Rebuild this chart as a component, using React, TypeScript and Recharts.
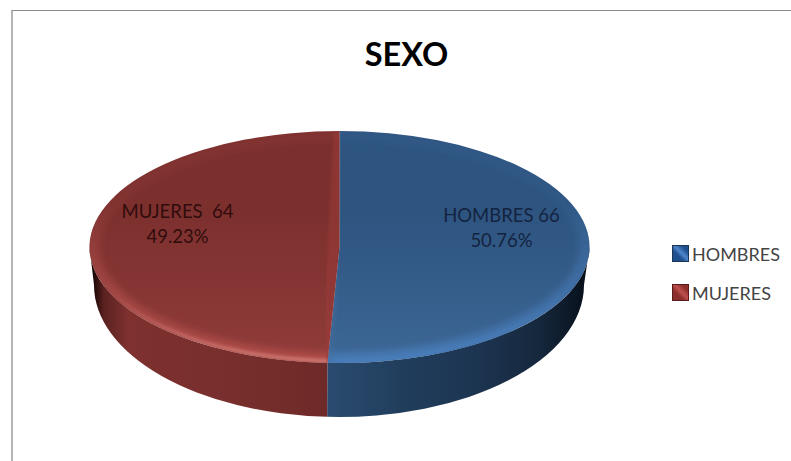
import React from 'react'
import { PieChart, Pie, Legend } from 'recharts'

const categories = ['HOMBRES', 'MUJERES']
const counts = [66, 64]
const percentLabels = ['50.76%', '49.23%']
const sliceLabels = ['HOMBRES 66', 'MUJERES \u00a064']

const chartData = categories.map((name, i) => ({
  name,
  value: counts[i],
  sliceLabel: sliceLabels[i],
  percentLabel: percentLabels[i],
  tone: i,
}))

const FONT = 'Lato, "Open Sans", sans-serif'

// the pie is laid on its side: top face squashed, thick wall under it
const CX = 339.5
const CY = 247
const RADIUS = 250
const SQUASH = 0.464
const WALL_CX = 339
const WALL_CY = 285
const WALL_RX = 245
const WALL_RY = 132

const tones = [
  {
    faceTop: '#2e5480',
    faceBottom: '#3d6796',
    rim: '#4a80bf',
    bevel: '#4a80bf',
    edge: '#44719f',
    edgeOpacity: 0.35,
    rimMid: 0.2,
    label: '#14233f',
    wall: [[325, '#2b4c70'], [400, '#213e5d'], [480, '#1c3450'], [540, '#15273c'], [585, '#08111c']],
    swatch: ['#4f86cc', '#1f4f8c', '#1c3558'],
  },
  {
    faceTop: '#7c302e',
    faceBottom: '#903c3a',
    rim: '#d8807a',
    bevel: '#b9514e',
    edge: '#a03e3a',
    edgeOpacity: 0.45,
    rimMid: 0.12,
    label: '#300c0c',
    wall: [[92, '#120404'], [104, '#5a2220'], [128, '#7e312f'], [250, '#762e2c'], [326, '#6e2a28']],
    swatch: ['#c0504d', '#8c2f2c', '#5a1c1a'],
  },
]

const facePoint = (deg: number, r = RADIUS) => {
  const a = (deg * Math.PI) / 180
  return [CX + r * Math.cos(a), CY - r * SQUASH * Math.sin(a)]
}

const wallPoint = (deg: number) => {
  const a = (deg * Math.PI) / 180
  return [WALL_CX + WALL_RX * Math.cos(a), WALL_CY - WALL_RY * Math.sin(a)]
}

function PieSlab(props: any) {
  const { startAngle, endAngle, outerRadius, payload, index } = props
  const tone = tones[payload?.tone ?? index ?? 0]
  const id = `slab-${payload?.tone ?? index ?? 0}`
  const ry = outerRadius * SQUASH
  const [sx, sy] = facePoint(startAngle, outerRadius)
  const [ex, ey] = facePoint(endAngle, outerRadius)
  const large = Math.abs(startAngle - endAngle) > 180 ? 1 : 0
  const face = `M${CX},${CY} L${sx},${sy} A${outerRadius},${ry} 0 ${large} 1 ${ex},${ey} Z`

  // only the part of the wall that faces the viewer, -180..0 degrees
  const wallFrom = Math.min(startAngle, 0)
  const wallTo = Math.max(endAngle, -180)
  const [t0x, t0y] = facePoint(wallFrom, outerRadius)
  const [t1x, t1y] = facePoint(wallTo, outerRadius)
  const [b0x, b0y] = wallPoint(wallFrom)
  const [b1x, b1y] = wallPoint(wallTo)
  const wall =
    `M${t0x},${t0y} A${outerRadius},${ry} 0 0 1 ${t1x},${t1y} ` +
    `L${b1x},${b1y} A${WALL_RX},${WALL_RY} 0 0 0 ${b0x},${b0y} Z`

  const [bx, by] = facePoint(-92.7, outerRadius)

  return (
    <g>
      <defs>
        <linearGradient id={`${id}-wall`} gradientUnits="userSpaceOnUse" x1={0} x2={791} y1={0} y2={0}>
          {tone.wall.map(([x, c]) => (
            <stop key={x as number} offset={(x as number) / 791} stopColor={c as string} />
          ))}
        </linearGradient>
        <linearGradient id={`${id}-face`} gradientUnits="userSpaceOnUse" x1={0} x2={0} y1={CY - ry} y2={CY + ry}>
          <stop offset={0} stopColor={tone.faceTop} />
          <stop offset={0.35} stopColor={tone.faceTop} />
          <stop offset={1} stopColor={tone.faceBottom} />
        </linearGradient>
        <linearGradient id={`${id}-rim`} gradientUnits="userSpaceOnUse" x1={0} x2={0} y1={CY - ry} y2={CY + ry}>
          <stop offset={0.3} stopColor={tone.rim} stopOpacity={0} />
          <stop offset={0.7} stopColor={tone.rim} stopOpacity={tone.rimMid} />
          <stop offset={1} stopColor={tone.rim} stopOpacity={0.9} />
        </linearGradient>
        <linearGradient id={`${id}-bevel`} gradientUnits="userSpaceOnUse" x1={0} x2={0} y1={CY - ry} y2={CY + ry}>
          <stop offset={0.3} stopColor={tone.bevel} stopOpacity={0.1} />
          <stop offset={0.6} stopColor={tone.bevel} stopOpacity={0.45} />
          <stop offset={1} stopColor={tone.bevel} stopOpacity={0.8} />
        </linearGradient>
        <clipPath id={`${id}-clip`}>
          <path d={face} />
        </clipPath>
        <filter id={`${id}-soft`} x="-10%" y="-10%" width="120%" height="120%">
          <feGaussianBlur stdDeviation={1.5} />
        </filter>
        <filter id={`${id}-softer`} x="-10%" y="-10%" width="120%" height="120%">
          <feGaussianBlur stdDeviation={3.5} />
        </filter>
      </defs>
      <path d={wall} fill={`url(#${id}-wall)`} />
      <path d={face} fill={`url(#${id}-face)`} />
      <g clipPath={`url(#${id}-clip)`}>
        {/* wide soft bevel, then the thin highlight on the front edge */}
        <ellipse
          cx={CX}
          cy={CY}
          rx={outerRadius - 5}
          ry={ry - 5}
          fill="none"
          stroke={`url(#${id}-bevel)`}
          strokeWidth={10}
          filter={`url(#${id}-softer)`}
        />
        <ellipse
          cx={CX}
          cy={CY}
          rx={outerRadius - 2}
          ry={ry - 2}
          fill="none"
          stroke={`url(#${id}-rim)`}
          strokeWidth={3.5}
          filter={`url(#${id}-soft)`}
        />
        {/* lit edge along the cut between the two slices */}
        <path
          d={`M${CX},${CY - ry} L${bx},${by}`}
          fill="none"
          stroke={tone.edge}
          strokeWidth={12}
          opacity={tone.edgeOpacity}
          filter={`url(#${id}-soft)`}
        />
      </g>
    </g>
  )
}

function SliceLabel(props: any) {
  const { cx, midAngle, payload, index } = props
  const tone = tones[payload?.tone ?? index ?? 0]
  const [x, y] = [
    cx + 162 * Math.cos((midAngle * Math.PI) / 180),
    247 - 162 * SQUASH * Math.sin((midAngle * Math.PI) / 180) - 33,
  ]
  return (
    <text x={x} textAnchor="middle" fontFamily={FONT} fontSize={18.5} fill={tone.label}>
      <tspan x={x} y={y + 6}>{payload.sliceLabel}</tspan>
      <tspan x={x} y={y + 31}>{payload.percentLabel}</tspan>
    </text>
  )
}

function SwatchLegend({ payload }: any) {
  return (
    <div>
      {(payload ?? []).map((entry: any, i: number) => {
        const s = tones[i].swatch
        return (
          <div key={entry.value} style={{ display: 'flex', alignItems: 'center', height: 39, fontFamily: FONT, fontSize: 18, color: '#444' }}>
            <span
              style={{
                width: 15,
                height: 15,
                marginRight: 3,
                border: `1px solid ${s[2]}`,
                background: `linear-gradient(45deg, ${s[1]} 35%, ${s[0]} 55%, ${s[1]} 80%)`,
                boxSizing: 'content-box',
              }}
            />
            {entry.value}
          </div>
        )
      })}
    </div>
  )
}

export default function App() {
  return (
    <div style={{ position: 'absolute', left: 0, top: 0, width: 791, height: 461, background: '#fff', overflow: 'hidden' }}>
      <div style={{ position: 'absolute', left: 11, top: 10, width: 800, height: 480, borderTop: '1px solid #8a8a8a', borderLeft: '2px solid #b4b4b4' }} />
      <PieChart width={791} height={461} margin={{ top: 0, right: 0, bottom: 0, left: 0 }} style={{ position: 'absolute', left: 0, top: 0 }}>
        <text x={406.5} y={66} textAnchor="middle" fontFamily={FONT} fontWeight={700} fontSize={32.5} fill="#000">
          SEXO
        </text>
        <Pie
          data={chartData}
          dataKey="value"
          nameKey="name"
          cx={CX}
          cy={CY}
          outerRadius={RADIUS}
          startAngle={90}
          endAngle={-270}
          stroke="none"
          fill="#2c5179"
          shape={PieSlab}
          inactiveShape={PieSlab}
          activeShape={PieSlab}
          label={SliceLabel}
          labelLine={false}
          isAnimationActive={false}
        />
        <Legend
          layout="vertical"
          align="right"
          verticalAlign="top"
          content={SwatchLegend}
          wrapperStyle={{ left: 672, top: 234, width: 119 }}
        />
      </PieChart>
    </div>
  )
}
